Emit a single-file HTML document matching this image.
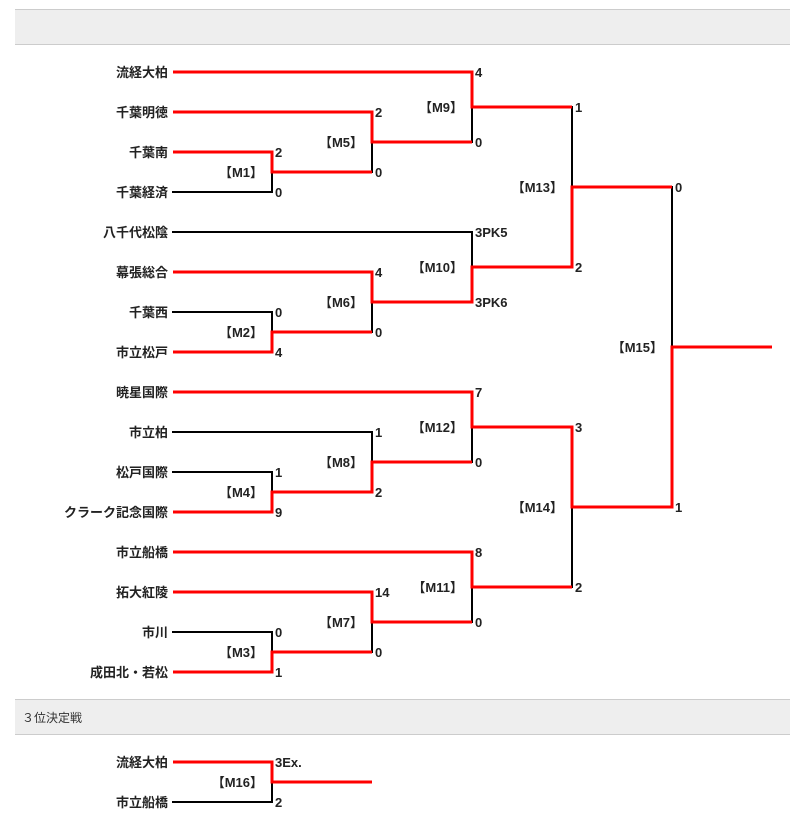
<!DOCTYPE html>
<html><head><meta charset="utf-8">
<style>
html,body{margin:0;padding:0;background:#fff;width:790px;height:824px;overflow:hidden}
.bar{position:absolute;left:15px;width:775px;height:34px;background:#eee;border-top:1px solid #ccc;border-bottom:1px solid #ccc}
.bar span{position:absolute;left:7px;top:9px;font:12px "Liberation Sans","Noto Sans CJK JP",sans-serif;color:#333}
svg{position:absolute;left:0;top:0}
svg text{font-family:"Liberation Sans","Noto Sans CJK JP",sans-serif;font-size:13px;font-weight:bold;fill:#222}
</style></head><body>
<div class="bar" style="top:9px"></div>
<div class="bar" style="top:699px"><span>３位決定戦</span></div>
<svg width="790" height="824" viewBox="0 0 790 824">
<g stroke="#000" stroke-width="2" fill="none" stroke-linecap="square">
<line x1="173" y1="192" x2="272" y2="192"/>
<line x1="173" y1="232" x2="472" y2="232"/>
<line x1="173" y1="312" x2="272" y2="312"/>
<line x1="173" y1="432" x2="372" y2="432"/>
<line x1="173" y1="472" x2="272" y2="472"/>
<line x1="173" y1="632" x2="272" y2="632"/>
<line x1="173" y1="802" x2="272" y2="802"/>
<line x1="272" y1="172" x2="272" y2="192"/>
<line x1="272" y1="312" x2="272" y2="332"/>
<line x1="272" y1="632" x2="272" y2="652"/>
<line x1="272" y1="472" x2="272" y2="492"/>
<line x1="372" y1="142" x2="372" y2="172"/>
<line x1="372" y1="302" x2="372" y2="332"/>
<line x1="372" y1="622" x2="372" y2="652"/>
<line x1="372" y1="432" x2="372" y2="462"/>
<line x1="472" y1="107" x2="472" y2="142"/>
<line x1="472" y1="232" x2="472" y2="267"/>
<line x1="472" y1="587" x2="472" y2="622"/>
<line x1="472" y1="427" x2="472" y2="462"/>
<line x1="572" y1="107" x2="572" y2="187"/>
<line x1="572" y1="507" x2="572" y2="587"/>
<line x1="672" y1="187" x2="672" y2="347"/>
<line x1="272" y1="782" x2="272" y2="802"/>
</g>
<g stroke="#f00" stroke-width="3" fill="none" stroke-linejoin="miter">
<polyline points="173,72 472,72 472,107 572,107"/>
<polyline points="173,112 372,112 372,142 472,142"/>
<polyline points="173,152 272,152 272,172 372,172"/>
<polyline points="173,272 372,272 372,302 472,302 472,267 572,267 572,187 672,187"/>
<polyline points="173,352 272,352 272,332 372,332"/>
<polyline points="173,392 472,392 472,427 572,427 572,507 672,507 672,347 772,347"/>
<polyline points="173,512 272,512 272,492 372,492 372,462 472,462"/>
<polyline points="173,552 472,552 472,587 572,587"/>
<polyline points="173,592 372,592 372,622 472,622"/>
<polyline points="173,672 272,672 272,652 372,652"/>
<polyline points="173,762 272,762 272,782 372,782"/>
</g>
<g text-anchor="end">
<text x="168" y="77">流経大柏</text>
<text x="168" y="117">千葉明徳</text>
<text x="168" y="157">千葉南</text>
<text x="168" y="197">千葉経済</text>
<text x="168" y="237">八千代松陰</text>
<text x="168" y="277">幕張総合</text>
<text x="168" y="317">千葉西</text>
<text x="168" y="357">市立松戸</text>
<text x="168" y="397">暁星国際</text>
<text x="168" y="437">市立柏</text>
<text x="168" y="477">松戸国際</text>
<text x="168" y="517">クラーク記念国際</text>
<text x="168" y="557">市立船橋</text>
<text x="168" y="597">拓大紅陵</text>
<text x="168" y="637">市川</text>
<text x="168" y="677">成田北・若松</text>
<text x="168" y="767">流経大柏</text>
<text x="168" y="807">市立船橋</text>
<text x="263" y="177">【M1】</text>
<text x="263" y="337">【M2】</text>
<text x="263" y="657">【M3】</text>
<text x="263" y="497">【M4】</text>
<text x="363" y="147">【M5】</text>
<text x="363" y="307">【M6】</text>
<text x="363" y="627">【M7】</text>
<text x="363" y="467">【M8】</text>
<text x="463" y="112">【M9】</text>
<text x="463" y="272">【M10】</text>
<text x="463" y="592">【M11】</text>
<text x="463" y="432">【M12】</text>
<text x="563" y="192">【M13】</text>
<text x="563" y="512">【M14】</text>
<text x="663" y="352">【M15】</text>
<text x="263" y="787">【M16】</text>
</g>
<g>
<text x="275" y="157">2</text><text x="275" y="197">0</text>
<text x="275" y="317">0</text><text x="275" y="357">4</text>
<text x="275" y="477">1</text><text x="275" y="517">9</text>
<text x="275" y="637">0</text><text x="275" y="677">1</text>
<text x="375" y="117">2</text><text x="375" y="177">0</text>
<text x="375" y="277">4</text><text x="375" y="337">0</text>
<text x="375" y="437">1</text><text x="375" y="497">2</text>
<text x="375" y="597">14</text><text x="375" y="657">0</text>
<text x="475" y="77">4</text><text x="475" y="147">0</text>
<text x="475" y="237">3PK5</text><text x="475" y="307">3PK6</text>
<text x="475" y="397">7</text><text x="475" y="467">0</text>
<text x="475" y="557">8</text><text x="475" y="627">0</text>
<text x="575" y="112">1</text><text x="575" y="272">2</text>
<text x="575" y="432">3</text><text x="575" y="592">2</text>
<text x="675" y="192">0</text><text x="675" y="512">1</text>
<text x="275" y="767">3Ex.</text><text x="275" y="807">2</text>
</g>
</svg>
</body></html>
